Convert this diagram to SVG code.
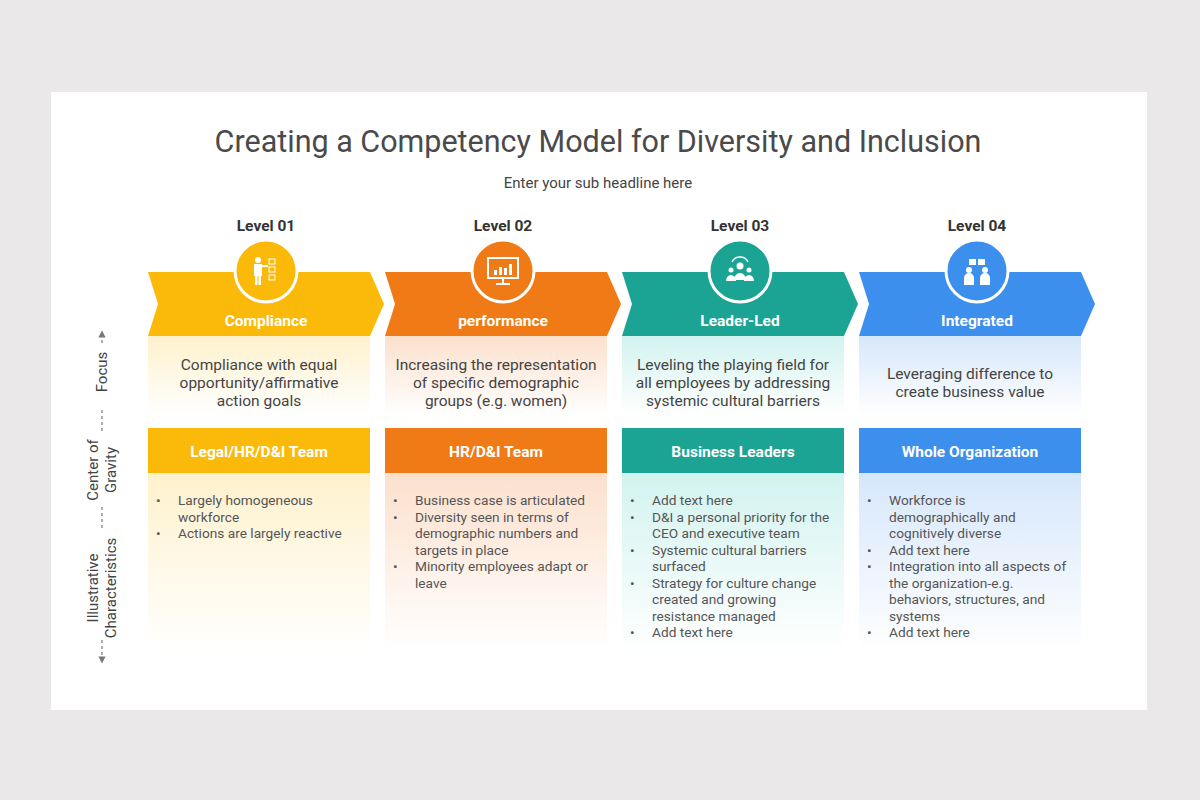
<svg xmlns="http://www.w3.org/2000/svg" width="1200" height="800" viewBox="0 0 1200 800">
<defs>
<style>
text{font-family:Roboto,"Liberation Sans",sans-serif}
.lv{font-size:15.5px;font-weight:bold;fill:#333;text-anchor:middle}
.ch{font-size:15.5px;font-weight:bold;fill:#fff;text-anchor:middle}
.fo{font-size:15.5px;fill:#444;text-anchor:middle}
.bl{font-size:13.7px;fill:#555}
.ax{font-size:15px;fill:#444;text-anchor:middle}
.dash{stroke:#777;stroke-width:1.2;stroke-dasharray:3 3;fill:none}
.ic{fill:#fff}
</style>
<linearGradient id="gy" x1="0" y1="0" x2="0" y2="1"><stop offset="0" stop-color="#FEF1CC"/><stop offset="1" stop-color="#fff"/></linearGradient>
<linearGradient id="go" x1="0" y1="0" x2="0" y2="1"><stop offset="0" stop-color="#FCE0CC"/><stop offset="1" stop-color="#fff"/></linearGradient>
<linearGradient id="gt" x1="0" y1="0" x2="0" y2="1"><stop offset="0" stop-color="#D2F3EF"/><stop offset="1" stop-color="#fff"/></linearGradient>
<linearGradient id="gb" x1="0" y1="0" x2="0" y2="1"><stop offset="0" stop-color="#D6E7FB"/><stop offset="1" stop-color="#fff"/></linearGradient>
<marker id="ar" viewBox="0 0 10 10" refX="5" refY="5" markerWidth="6" markerHeight="6" orient="auto-start-reverse"><path d="M0,0L10,5L0,10z" fill="#777"/></marker>
</defs>
<rect width="1200" height="800" fill="#EAE8E9"/>
<rect x="51" y="92" width="1096" height="618" fill="#fff"/>
<text x="598" y="152" font-size="30.5" fill="#4a4a4a" text-anchor="middle">Creating a Competency Model for Diversity and Inclusion</text>
<text x="598" y="188" font-size="15" fill="#444" text-anchor="middle">Enter your sub headline here</text>

<g id="axis">
<line class="dash" x1="102" y1="334" x2="102" y2="344" marker-start="url(#ar)"/>
<line class="dash" x1="102" y1="410" x2="102" y2="432"/>
<line class="dash" x1="102" y1="507" x2="102" y2="528"/>
<line class="dash" x1="102" y1="640" x2="102" y2="660" marker-end="url(#ar)"/>
<text class="ax" transform="translate(107,372) rotate(-90)">Focus</text>
<text class="ax" transform="translate(98,470) rotate(-90)">Center of</text>
<text class="ax" transform="translate(116,470) rotate(-90)">Gravity</text>
<text class="ax" transform="translate(98,588) rotate(-90)">Illustrative</text>
<text class="ax" transform="translate(116,588) rotate(-90)">Characteristics</text>
</g>

<g id="level1">
<text class="lv" x="266" y="231">Level 01</text>
<rect x="148" y="336" width="222" height="79" fill="url(#gy)"/>
<rect x="148" y="473" width="222" height="177" fill="url(#gy)"/>
<path d="M148,272H370L384,304L370,336H148L158,304Z" fill="#FBBA0A"/>
<circle cx="266" cy="271" r="31" fill="#FBBA0A" stroke="#fff" stroke-width="3"/>
<g class="ic"><circle cx="258" cy="260" r="3"/><rect x="254" y="264" width="8" height="12"/><rect x="255" y="275" width="2.5" height="10"/><rect x="258.5" y="275" width="2.5" height="10"/><rect x="261" y="265" width="7" height="2"/><rect x="269" y="259" width="6" height="5" fill="none" stroke="#fff"/><rect x="269" y="267" width="6" height="5" fill="none" stroke="#fff"/><rect x="269" y="275" width="6" height="5" fill="none" stroke="#fff"/></g>
<text class="ch" x="266" y="326">Compliance</text>
<text class="fo" x="259" y="370">Compliance with equal</text>
<text class="fo" x="259" y="388">opportunity/affirmative</text>
<text class="fo" x="259" y="406">action goals</text>
<rect x="148" y="428" width="222" height="45" fill="#FBBA0A"/>
<text class="ch" x="259" y="457">Legal/HR/D&amp;I Team</text>
<g class="bl"><text x="156" y="505">•</text><text x="178" y="505">Largely homogeneous</text><text x="178" y="522">workforce</text><text x="156" y="538">•</text><text x="178" y="538">Actions are largely reactive</text></g>
</g>

<g id="level2">
<text class="lv" x="503" y="231">Level 02</text>
<rect x="385" y="336" width="222" height="79" fill="url(#go)"/>
<rect x="385" y="473" width="222" height="177" fill="url(#go)"/>
<path d="M385,272H607L621,304L607,336H385L395,304Z" fill="#F07B16"/>
<circle cx="503" cy="271" r="31" fill="#F07B16" stroke="#fff" stroke-width="3"/>
<g class="ic"><rect x="488" y="258" width="30" height="20" fill="none" stroke="#fff" stroke-width="2"/><rect x="494" y="270" width="3" height="5"/><rect x="499" y="267" width="3" height="8"/><rect x="504" y="268" width="3" height="7"/><rect x="509" y="264" width="3" height="11"/><rect x="502" y="278" width="2" height="5"/><rect x="496" y="283" width="14" height="2"/></g>
<text class="ch" x="503" y="326">performance</text>
<text class="fo" x="496" y="370">Increasing the representation</text>
<text class="fo" x="496" y="388">of specific demographic</text>
<text class="fo" x="496" y="406">groups (e.g. women)</text>
<rect x="385" y="428" width="222" height="45" fill="#F07B16"/>
<text class="ch" x="496" y="457">HR/D&amp;I Team</text>
<g class="bl"><text x="393" y="505">•</text><text x="415" y="505">Business case is articulated</text><text x="393" y="522">•</text><text x="415" y="522">Diversity seen in terms of</text><text x="415" y="538">demographic numbers and</text><text x="415" y="555">targets in place</text><text x="393" y="571">•</text><text x="415" y="571">Minority employees adapt or</text><text x="415" y="588">leave</text></g>
</g>

<g id="level3">
<text class="lv" x="740" y="231">Level 03</text>
<rect x="622" y="336" width="222" height="79" fill="url(#gt)"/>
<rect x="622" y="473" width="222" height="177" fill="url(#gt)"/>
<path d="M622,272H844L858,304L844,336H622L632,304Z" fill="#1BA394"/>
<circle cx="740" cy="271" r="31" fill="#1BA394" stroke="#fff" stroke-width="3"/>
<g class="ic"><circle cx="740" cy="266" r="3.5"/><path d="M734,280a6,7 0 0 1 12,0z"/><circle cx="731" cy="270" r="2.5"/><path d="M726,281a5,6 0 0 1 10,0z"/><circle cx="749" cy="270" r="2.5"/><path d="M744,281a5,6 0 0 1 10,0z"/><path d="M732,262a9,9 0 0 1 16,0" fill="none" stroke="#fff" stroke-width="1.5"/></g>
<text class="ch" x="740" y="326">Leader-Led</text>
<text class="fo" x="733" y="370">Leveling the playing field for</text>
<text class="fo" x="733" y="388">all employees by addressing</text>
<text class="fo" x="733" y="406">systemic cultural barriers</text>
<rect x="622" y="428" width="222" height="45" fill="#1BA394"/>
<text class="ch" x="733" y="457">Business Leaders</text>
<g class="bl"><text x="630" y="505">•</text><text x="652" y="505">Add text here</text><text x="630" y="522">•</text><text x="652" y="522">D&amp;I a personal priority for the</text><text x="652" y="538">CEO and executive team</text><text x="630" y="555">•</text><text x="652" y="555">Systemic cultural barriers</text><text x="652" y="571">surfaced</text><text x="630" y="588">•</text><text x="652" y="588">Strategy for culture change</text><text x="652" y="604">created and growing</text><text x="652" y="621">resistance managed</text><text x="630" y="637">•</text><text x="652" y="637">Add text here</text></g>
</g>

<g id="level4">
<text class="lv" x="977" y="231">Level 04</text>
<rect x="859" y="336" width="222" height="79" fill="url(#gb)"/>
<rect x="859" y="473" width="222" height="177" fill="url(#gb)"/>
<path d="M859,272H1081L1095,304L1081,336H859L869,304Z" fill="#3D8FEE"/>
<circle cx="977" cy="271" r="31" fill="#3D8FEE" stroke="#fff" stroke-width="3"/>
<g class="ic"><rect x="969" y="259" width="7" height="6"/><rect x="978" y="259" width="7" height="6"/><circle cx="969" cy="270" r="3"/><path d="M964,285v-7a5,5 0 0 1 10,0v7z"/><circle cx="985" cy="270" r="3"/><path d="M980,285v-7a5,5 0 0 1 10,0v7z"/></g>
<text class="ch" x="977" y="326">Integrated</text>
<text class="fo" x="970" y="379">Leveraging difference to</text>
<text class="fo" x="970" y="397">create business value</text>
<rect x="859" y="428" width="222" height="45" fill="#3D8FEE"/>
<text class="ch" x="970" y="457">Whole Organization</text>
<g class="bl"><text x="867" y="505">•</text><text x="889" y="505">Workforce is</text><text x="889" y="522">demographically and</text><text x="889" y="538">cognitively diverse</text><text x="867" y="555">•</text><text x="889" y="555">Add text here</text><text x="867" y="571">•</text><text x="889" y="571">Integration into all aspects of</text><text x="889" y="588">the organization-e.g.</text><text x="889" y="604">behaviors, structures, and</text><text x="889" y="621">systems</text><text x="867" y="637">•</text><text x="889" y="637">Add text here</text></g>
</g>
</svg>
